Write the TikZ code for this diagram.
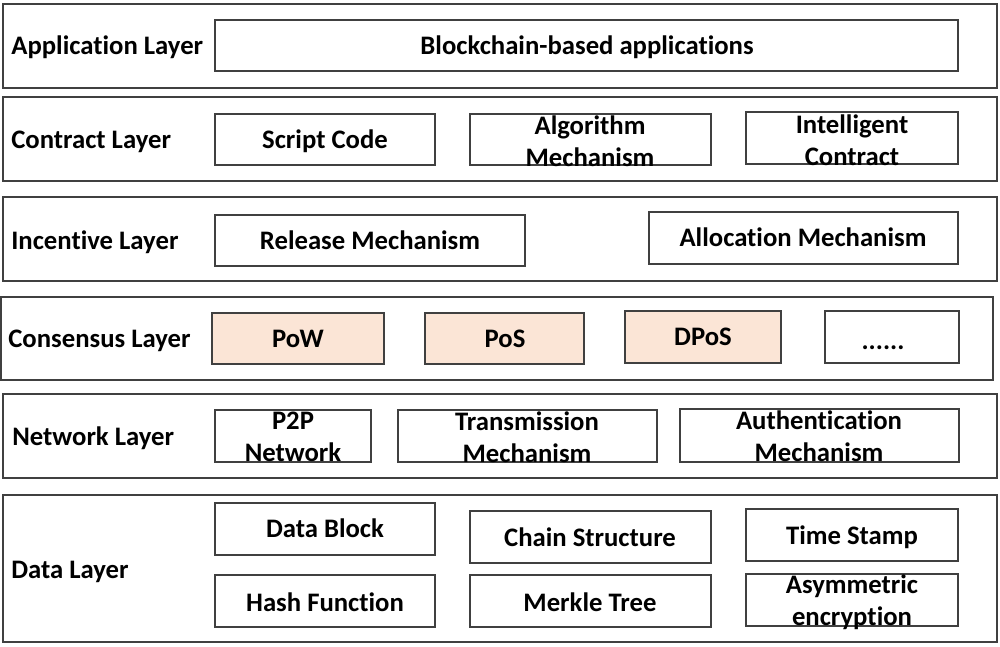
\documentclass[tikz,border=0pt]{standalone}
\usepackage{fontspec}
\setmainfont{Carlito}[Ligatures=NoCommon]
\usepackage{tikz}

\definecolor{peach}{HTML}{FBE5D6}
\definecolor{edge}{HTML}{404040}

\begin{document}
\begin{tikzpicture}[x=0.02cm, y=-0.02cm,
    layer/.style={draw=edge, line width=0.9pt},
    cell/.style={draw=edge, line width=0.7pt, fill=white},
    algo/.style={draw=edge, line width=0.7pt, fill=peach},
    layername/.style={anchor=west, inner sep=0pt, text height=9.8pt, text depth=0pt, font=\fontsize{15.2}{18}\selectfont\bfseries},
    txt/.style={inner sep=0pt, text height=9.8pt, text depth=0pt, font=\fontsize{15.2}{18}\selectfont\bfseries},
    twoline/.style={align=center, inner sep=0pt, font=\fontsize{15.2}{18}\selectfont\bfseries}]
				\useasboundingbox (0,0) rectangle (1000,646);
				
				% application layer
				\draw[layer] (3,4) rectangle (997,88);
				\node[layername] (app) at (11,46) {Application Layer};
				\draw[cell] (215,20) rectangle (958,71);
				\node[txt] (apps) at (587,46) {Blockchain-based applications};
				
				% contract layer
				\draw[layer] (3,97) rectangle (997,181);
				\node[layername] (contract) at (11,140) {Contract Layer};
				\draw[cell] (215,114) rectangle (435,165);
				\node[txt] (script) at (325,140) {Script Code};
				\draw[cell] (470,114) rectangle (711,165);
				\node[twoline] (algmech) at (590,141) {Algorithm\\Mechanism};
				\draw[cell] (746,112) rectangle (958,164);
				\node[twoline] (smart) at (852,140) {Intelligent\\Contract};
				
				% incentive layer
				\draw[layer] (3,197) rectangle (997,281);
				\node[layername] (incentive) at (11,241) {Incentive Layer};
				\draw[cell] (215,215) rectangle (525,266);
				\node[txt] (release) at (370,241) {Release Mechanism};
				\draw[cell] (649,212) rectangle (958,264);
				\node[txt] (alloc) at (803,238) {Allocation Mechanism};
				
				% consensus layer
				\draw[layer] (1,297) rectangle (993,380);
				\node[layername] (consensus) at (8,339) {Consensus Layer};
				\draw[algo] (212,313) rectangle (384,364);
				\node[txt] (pow) at (298,339) {PoW};
				\draw[algo] (425,313) rectangle (584,364);
				\node[txt] (pos) at (505,339) {PoS};
				\draw[algo] (625,311) rectangle (781,363);
				\node[txt] (dpos) at (703,337) {DPoS};
				\draw[cell] (825,311) rectangle (959,363);
				\node[txt] (more) at (883,341) {......};
				
				% network layer
				\draw[layer] (3,394) rectangle (997,478);
				\node[layername] (network) at (12,437) {Network Layer};
				\draw[cell] (215,410) rectangle (371,462);
				\node[twoline] (p2p) at (293,437) {P2P\\Network};
				\draw[cell] (398,410) rectangle (657,462);
				\node[twoline] (trans) at (527,437) {Transmission\\Mechanism};
				\draw[cell] (680,409) rectangle (959,462);
				\node[twoline] (auth) at (819,436) {Authentication\\Mechanism};
				
				% data layer
				\draw[layer] (3,495) rectangle (997,642);
				\node[layername] (data) at (11,570) {Data Layer};
				\draw[cell] (215,503) rectangle (435,555);
				\node[txt] (block) at (325,529) {Data Block};
				\draw[cell] (470,511) rectangle (711,563);
				\node[txt] (chain) at (590,538) {Chain Structure};
				\draw[cell] (746,509) rectangle (958,561);
				\node[txt] (stamp) at (852,536) {Time Stamp};
				\draw[cell] (215,575) rectangle (435,627);
				\node[txt] (hash) at (325,603) {Hash Function};
				\draw[cell] (470,575) rectangle (711,627);
				\node[txt] (merkle) at (590,603) {Merkle Tree};
				\draw[cell] (746,574) rectangle (958,626);
				\node[twoline] (asym) at (852,602) {Asymmetric\\encryption};
			\end{tikzpicture}
\end{document}
